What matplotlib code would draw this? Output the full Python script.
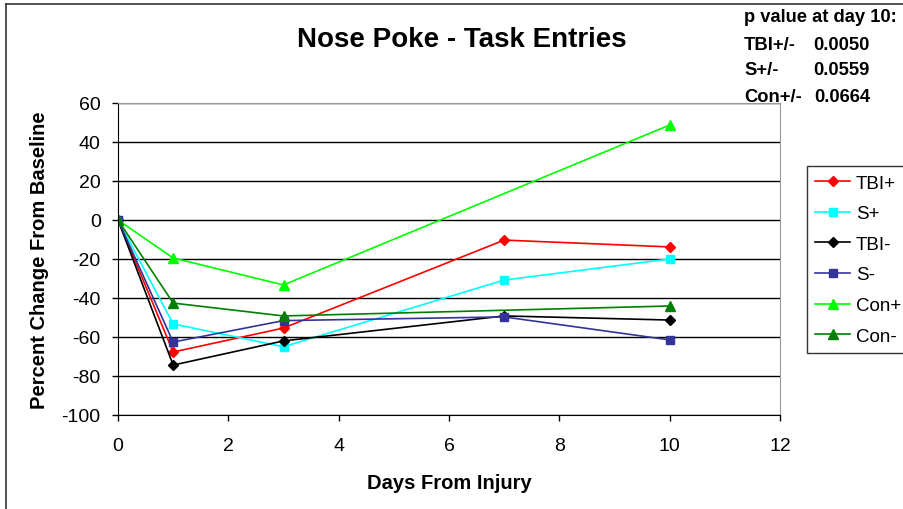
import matplotlib
matplotlib.use("Agg")
import matplotlib.pyplot as plt
from matplotlib.lines import Line2D

plt.rcParams['font.family'] = ['Liberation Sans', 'DejaVu Sans']
plt.rcParams['axes.unicode_minus'] = False

# data
days = [0, 1, 3, 7, 10]
days_con = [0, 1, 3, 10]
tbi_pos = [0, -67.7, -55.4, -10.3, -13.8]
s_pos = [0, -53.3, -65.0, -30.8, -20.0]
tbi_neg = [0, -74.4, -62.0, -49.2, -51.3]
s_neg = [0, -62.6, -51.6, -49.7, -61.5]
con_pos = [0, -19.5, -33.3, 48.7]
con_neg = [0, -42.6, -49.2, -44.1]

pvals = [("TBI+/-", "0.0050"), ("S+/-", "0.0559"), ("Con+/-", "0.0664")]

fig = plt.figure(figsize=(9.04, 5.1), dpi=100)
ax = fig.add_axes([118/904, 94/510, 662/904, 312/510])

# outer chart frame (left and top edges visible)
fig.add_artist(Line2D([6/904, 6/904], [0, 1 - 5/510], transform=fig.transFigure, color='#333333', lw=1.2))
fig.add_artist(Line2D([6/904, 1], [1 - 5/510, 1 - 5/510], transform=fig.transFigure, color='#333333', lw=1.2))

ax.plot(days, tbi_pos, color='#FF0000', marker='D', ms=5.5, lw=1.2, label='TBI+')
ax.plot(days, s_pos, color='#00FFFF', marker='s', ms=6, lw=1.2, label='S+')
ax.plot(days, tbi_neg, color='black', marker='D', ms=5.5, lw=1.2, label='TBI-')
ax.plot(days, s_neg, color='#333399', marker='s', ms=6, lw=1.2, label='S-')
ax.plot(days_con, con_pos, color='#00FF00', marker='^', ms=7, lw=1.2, label='Con+')
ax.plot(days_con, con_neg, color='#008000', marker='^', ms=7, lw=1.2, label='Con-')

ax.set_xlim(0, 12)
ax.set_ylim(-100, 60)
ax.set_xticks(range(0, 13, 2))
ax.set_yticks(range(-100, 61, 20))
ax.yaxis.grid(True, color='black', lw=1)
ax.set_axisbelow(True)
ax.tick_params(direction='out', length=4.5, width=1, labelsize=14)
ax.tick_params(axis='y', pad=8)
ax.tick_params(axis='x', pad=11)
for s in ['top', 'right']:
    ax.spines[s].set_color('#999999')
for s in ['left', 'bottom']:
    ax.spines[s].set_color('black')

ax.set_xlabel('Days From Injury', fontsize=14.5, fontweight='bold', labelpad=14)
ax.set_ylabel('Percent Change From Baseline', fontsize=14.5, fontweight='bold', labelpad=9)
fig.text(462/904, 1 - 40/510, 'Nose Poke - Task Entries', ha='center', va='center',
         fontsize=20, fontweight='bold')

fig.text(744/904, 1 - 17/510, 'p value at day 10:', ha='left', va='center', fontsize=13.2, fontweight='bold')
for i, (name, p) in enumerate(pvals):
    y = 1 - (45 + 26*i)/510
    fig.text(744/904, y, name, ha='left', va='center', fontsize=13.2, fontweight='bold')
    fig.text(870/904, y, p, ha='right', va='center', fontsize=13.2, fontweight='bold')

leg = fig.legend(loc='upper left', bbox_to_anchor=(807/904, 1 - 167/510), fontsize=13.5,
                 frameon=True, fancybox=False, edgecolor='black', borderpad=0.45,
                 labelspacing=0.72, handlelength=1.85, handletextpad=0.3, borderaxespad=0)
leg.get_frame().set_linewidth(1)

fig.savefig('out.png', dpi=100)
